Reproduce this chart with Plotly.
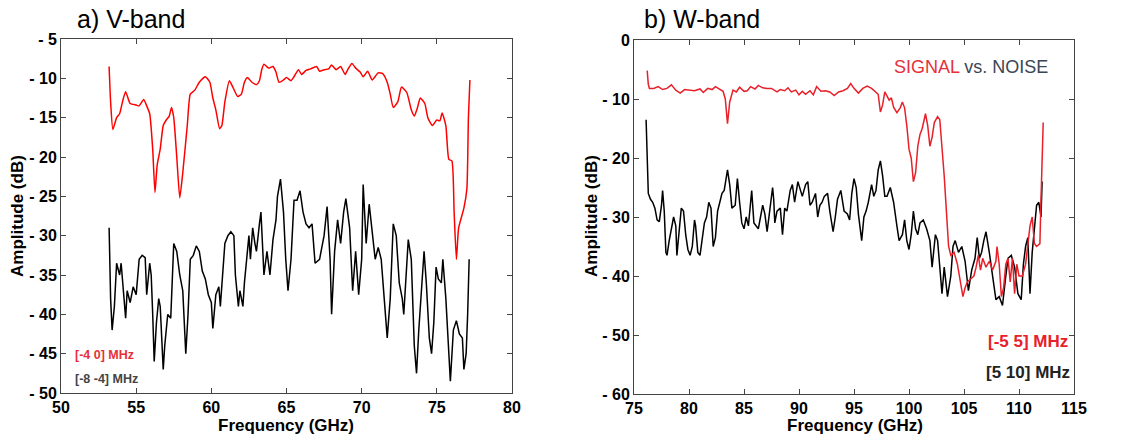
import plotly.graph_objects as go

# ---------------- Data: a) V-band ----------------
v_sig_f = [53.2, 53.3, 53.45, 53.7, 53.9, 54.1, 54.3, 54.6, 55.0, 55.2, 55.5, 55.7, 55.9, 56.1, 56.25,
           56.4, 56.6, 56.8, 57.0, 57.2, 57.35, 57.5, 57.7, 57.9, 58.1, 58.4, 58.6, 58.9, 59.2, 59.6,
           59.9, 60.1, 60.3, 60.55, 60.7, 60.9, 61.2, 61.4, 61.75, 62.0, 62.2, 62.4, 62.7, 63.0, 63.2,
           63.35, 63.5, 63.8, 64.1, 64.3, 64.5, 64.8, 65.0, 65.3, 65.5, 65.8, 66.0, 66.3, 66.6, 67.0,
           67.2, 67.5, 67.8, 68.0, 68.3, 68.6, 68.9, 69.1, 69.35, 69.6, 69.9, 70.1, 70.4, 70.7, 71.1,
           71.4, 71.7, 71.9, 72.1, 72.4, 72.65, 73.0, 73.3, 73.5, 73.7, 73.9, 74.2, 74.4, 74.7, 75.0,
           75.2, 75.35, 75.6, 75.8, 76.0, 76.15, 76.3, 76.45, 76.8, 77.0, 77.1, 77.2]
v_sig_a = [-8.5, -13.0, -16.5, -15.0, -14.5, -12.9, -11.7, -13.2, -13.4, -13.5, -12.7, -13.5, -14.5, -19.0, -24.5,
           -21.0, -19.0, -16.0, -15.3, -14.8, -13.7, -15.0, -20.0, -25.2, -22.0, -16.0, -12.0, -11.5, -10.5, -9.8,
           -10.5, -12.5, -14.0, -16.4, -16.0, -13.0, -10.3, -11.0, -12.3, -12.0, -10.5, -9.9, -10.5, -10.8, -10.3,
           -8.9, -8.2, -8.7, -8.5, -9.2, -10.5, -10.2, -9.9, -10.3, -9.8, -8.9, -9.5, -9.0, -8.8, -8.5,
           -9.1, -8.9, -8.8, -8.3, -8.9, -8.5, -9.5, -8.8, -8.1, -8.7, -9.2, -9.8, -9.1, -10.2, -9.3,
           -9.4, -10.5, -12.0, -13.7, -13.0, -11.1, -11.8, -14.0, -14.8, -13.8, -12.5, -13.2, -15.0, -16.0, -15.3,
           -15.4, -14.4, -16.0, -20.3, -20.5, -27.0, -33.0, -29.0, -26.5, -24.0, -15.0, -10.2]

v_noi_f = [53.2, 53.3, 53.4, 53.55, 53.7, 53.8, 53.9, 54.0, 54.1, 54.3, 54.4, 54.6, 54.8, 55.0, 55.2,
           55.4, 55.6, 55.7, 55.9, 56.0, 56.1, 56.2, 56.35, 56.5, 56.6, 56.7, 56.8, 56.9, 57.1, 57.3,
           57.5, 57.7, 57.9, 58.1, 58.3, 58.45, 58.6, 58.8, 59.0, 59.2, 59.4, 59.6, 59.8, 60.0, 60.1,
           60.3, 60.5, 60.6, 60.8, 60.9, 61.1, 61.3, 61.5, 61.6, 61.8, 61.9, 62.1, 62.2, 62.4, 62.5,
           62.6, 62.75, 62.9, 63.0, 63.2, 63.3, 63.5, 63.7, 63.9, 64.1, 64.3, 64.4, 64.6, 64.8, 64.95,
           65.1, 65.3, 65.5, 65.7, 65.9, 66.1, 66.3, 66.5, 66.7, 66.9, 67.2, 67.5, 67.7, 67.9, 68.0,
           68.2, 68.4, 68.6, 68.8, 68.95, 69.2, 69.4, 69.6, 69.8, 70.0, 70.1, 70.3, 70.5, 70.7, 70.9,
           71.1, 71.3, 71.5, 71.7, 71.9, 72.1, 72.3, 72.5, 72.7, 72.8, 73.1, 73.3, 73.5, 73.65, 73.8,
           74.0, 74.15, 74.3, 74.5, 74.65, 74.8, 74.95, 75.1, 75.3, 75.4, 75.6, 75.75, 75.9, 76.1, 76.3,
           76.5, 76.7, 76.8, 76.95, 77.05, 77.15]
v_noi_a = [-29.0, -38.0, -42.0, -39.0, -33.5, -34.5, -35.0, -33.5, -36.0, -40.5, -37.0, -38.5, -36.5, -37.5, -33.0,
           -32.5, -32.8, -37.5, -33.5, -35.0, -40.0, -46.0, -41.0, -38.0, -39.0, -43.0, -47.0, -44.0, -40.0, -40.5,
           -31.0, -32.0, -35.0, -37.0, -45.0, -40.0, -33.0, -32.5, -31.3, -32.0, -34.5, -35.5, -37.5, -38.5, -41.8,
           -37.5, -36.5, -39.0, -34.0, -31.0, -30.0, -29.5, -30.0, -35.0, -39.0, -37.0, -39.0, -36.0, -32.0, -30.0,
           -33.0, -29.0, -31.0, -32.0, -28.5, -27.0, -35.0, -32.0, -35.0, -30.5, -28.0, -25.0, -22.8, -27.0, -33.0,
           -37.0, -33.0, -25.5, -25.5, -24.3, -27.0, -28.5, -29.0, -28.5, -33.5, -33.0, -30.0, -26.3, -33.0, -40.0,
           -32.0, -28.0, -31.0, -27.0, -25.3, -29.0, -37.0, -32.0, -37.5, -33.0, -23.5, -31.0, -26.0, -30.0, -33.0,
           -31.5, -33.0, -38.0, -43.0, -38.0, -28.5, -30.0, -36.0, -38.0, -40.0, -30.5, -33.0, -44.0, -47.5, -42.0,
           -36.0, -32.0, -36.0, -43.0, -45.0, -41.0, -34.0, -35.5, -36.0, -33.0, -38.0, -43.0, -48.5, -42.0, -40.8,
           -42.5, -43.0, -47.0, -45.0, -40.0, -33.0]

# ---------------- Data: b) W-band ----------------
w_sig_f = [76.2, 76.3, 76.4, 76.8, 77.2, 77.6, 78.0, 78.4, 78.8, 79.2, 79.6, 80.0, 80.5, 81.0, 81.3,
           81.7, 82.1, 82.4, 82.8, 83.1, 83.3, 83.5, 83.7, 84.0, 84.3, 84.6, 85.0, 85.3, 85.6, 86.0,
           86.3, 86.7, 87.1, 87.5, 88.0, 88.3, 88.7, 89.0, 89.3, 89.7, 90.0, 90.3, 90.6, 91.0, 91.3,
           91.6, 92.0, 92.4, 92.8, 93.2, 93.6, 94.0, 94.4, 94.7, 95.0, 95.4, 95.8, 96.2, 96.6, 97.0,
           97.2, 97.4, 97.6, 97.8, 98.0, 98.2, 98.4, 98.6, 98.9, 99.2, 99.4, 99.6, 99.8, 100.0, 100.2,
           100.4, 100.6, 100.8, 101.0, 101.2, 101.5, 101.7, 101.9, 102.1, 102.3, 102.6, 102.8, 103.0, 103.2, 103.4,
           103.6, 103.8, 104.1, 104.4, 104.7, 104.9, 105.1, 105.3, 105.6, 105.9, 106.1, 106.3, 106.5, 106.7, 107.0,
           107.3, 107.6, 107.9, 108.0, 108.2, 108.4, 108.6, 108.8, 109.0, 109.2, 109.4, 109.6, 109.8, 110.0, 110.3,
           110.6, 110.8, 111.0, 111.2, 111.4, 111.6, 111.9, 112.0, 112.1, 112.2]
w_sig_a = [-5.2, -7.5, -8.2, -8.2, -7.9, -8.4, -8.2, -7.6, -8.5, -9.0, -8.4, -8.5, -8.6, -8.3, -8.9,
           -8.2, -8.4, -7.9, -8.4, -8.7, -10.0, -14.2, -10.5, -8.5, -8.8, -8.0, -8.7, -8.6, -7.9, -8.3,
           -7.7, -8.1, -8.2, -8.2, -8.8, -8.4, -8.6, -8.1, -8.8, -8.5, -9.3, -8.7, -9.2, -8.6, -9.3,
           -7.9, -8.7, -8.6, -8.8, -9.4, -8.8, -8.6, -8.2, -7.4, -8.2, -9.0, -8.2, -7.8, -8.2, -8.8,
           -9.2, -12.2, -11.0, -8.8, -9.5, -10.2, -9.8, -11.4, -12.3, -11.5, -10.5, -11.5, -14.5, -18.5, -20.0,
           -24.0, -22.5, -18.0, -16.0, -15.0, -12.5, -14.5, -18.0, -16.5, -14.0, -13.0, -13.5, -18.0, -23.0, -29.0,
           -35.0, -36.5, -36.0, -38.0, -41.0, -43.5, -42.0, -41.0, -40.5, -40.0, -38.5, -36.5, -39.0, -37.0, -38.5,
           -37.5, -39.0, -37.5, -35.0, -38.0, -43.5, -42.0, -38.0, -37.0, -41.0, -37.0, -43.0, -38.0, -40.0, -40.0,
           -38.0, -35.0, -31.5, -30.0, -34.5, -35.0, -34.5, -27.0, -20.0, -14.0]

w_noi_f = [76.1, 76.2, 76.3, 76.5, 76.7, 76.9, 77.1, 77.3, 77.5, 77.6, 77.75, 77.9, 78.0, 78.2, 78.4,
           78.6, 78.8, 78.9, 79.0, 79.3, 79.5, 79.7, 79.9, 80.1, 80.3, 80.5, 80.6, 80.8, 81.0, 81.2,
           81.4, 81.6, 81.8, 82.0, 82.2, 82.4, 82.6, 82.8, 83.0, 83.2, 83.4, 83.5, 83.7, 83.9, 84.2,
           84.4, 84.6, 84.8, 85.0, 85.2, 85.4, 85.6, 85.7, 85.9, 86.1, 86.3, 86.5, 86.7, 86.9, 87.1,
           87.3, 87.6, 87.7, 87.8, 88.0, 88.3, 88.5, 88.7, 88.9, 89.2, 89.4, 89.6, 89.9, 90.1, 90.3,
           90.6, 90.8, 91.0, 91.2, 91.5, 91.7, 91.9, 92.1, 92.3, 92.6, 92.8, 93.1, 93.3, 93.5, 93.8,
           94.1, 94.4, 94.6, 94.8, 95.0, 95.2, 95.4, 95.7, 95.9, 96.1, 96.3, 96.6, 96.8, 97.0, 97.2,
           97.4, 97.6, 97.8, 98.0, 98.3, 98.6, 98.9, 99.1, 99.4, 99.6, 99.8, 100.0, 100.2, 100.4, 100.6,
           100.8, 101.0, 101.3, 101.6, 101.9, 102.1, 102.4, 102.6, 102.8, 103.0, 103.2, 103.5, 103.8, 104.0, 104.2,
           104.5, 104.8, 105.1, 105.4, 105.7, 106.0, 106.2, 106.4, 106.6, 106.8, 107.0, 107.3, 107.6, 107.9, 108.2,
           108.5, 108.8, 109.0, 109.3, 109.6, 109.9, 110.2, 110.4, 110.6, 110.8, 111.0, 111.2, 111.4, 111.6, 111.8,
           112.0, 112.1]
w_noi_a = [-13.5, -20.0, -26.0, -27.0, -27.5, -28.5, -30.5, -30.8, -28.0, -25.5, -29.0, -36.0, -36.5, -34.0, -32.0,
           -30.0, -31.5, -36.5, -34.5, -28.5, -29.0, -33.0, -35.5, -36.5, -35.0, -30.5, -31.5, -36.0, -36.5, -34.0,
           -31.0, -30.0, -27.5, -28.5, -35.0, -33.5, -29.0, -27.5, -26.0, -25.5, -23.0, -22.0, -24.5, -28.5, -28.0,
           -23.5, -27.5, -31.0, -32.0, -30.0, -31.5, -28.0, -25.5, -31.0, -31.5, -32.0, -30.0, -28.0, -29.5, -32.5,
           -29.5, -25.0, -27.0, -31.0, -29.0, -28.5, -33.0, -28.5, -29.0, -25.5, -24.5, -27.5, -24.0, -25.5, -26.5,
           -24.5, -24.0, -28.0, -27.5, -26.0, -30.0, -28.0, -27.5, -26.5, -26.0, -29.0, -32.5, -30.0, -27.0, -25.5,
           -29.0, -29.5, -30.5, -26.0, -23.5, -25.0, -29.5, -34.0, -30.0, -29.0, -27.5, -24.5, -26.5, -25.5, -22.0,
           -20.5, -23.0, -26.5, -26.5, -25.0, -27.5, -31.5, -34.0, -33.0, -30.5, -34.0, -35.5, -33.0, -29.0, -32.0,
           -33.0, -31.0, -30.5, -32.0, -34.0, -38.5, -33.0, -34.0, -38.0, -43.0, -38.5, -43.5, -40.0, -35.0, -34.0,
           -36.0, -35.0, -37.5, -42.5, -39.0, -37.0, -33.5, -37.0, -36.0, -34.0, -32.5, -36.0, -40.0, -44.0, -43.5,
           -45.0, -40.0, -37.0, -36.5, -38.5, -43.0, -44.0, -38.0, -35.0, -33.5, -43.0, -36.0, -32.0, -28.0, -27.5,
           -30.0, -24.0]

# tick labels
v_xticks = [50, 55, 60, 65, 70, 75, 80]
v_yticks = [-5, -10, -15, -20, -25, -30, -35, -40, -45, -50]
w_xticks = [75, 80, 85, 90, 95, 100, 105, 110, 115]
w_yticks = [0, -10, -20, -30, -40, -50, -60]


def ylab(v):
    return "0" if v == 0 else "- " + str(abs(v))


W, H = 1133, 439
FONT = "Liberation Sans, Arial, sans-serif"


def px_x(p):
    return p / W


def px_y(p):
    return 1 - p / H


fig = go.Figure()
fig.add_trace(go.Scatter(x=v_noi_f, y=v_noi_a, mode="lines", line=dict(color="#000000", width=1.5),
                         xaxis="x", yaxis="y", showlegend=False))
fig.add_trace(go.Scatter(x=v_sig_f, y=v_sig_a, mode="lines", line=dict(color="#ff0000", width=1.5, shape="spline", smoothing=0.5),
                         xaxis="x", yaxis="y", showlegend=False))
fig.add_trace(go.Scatter(x=w_noi_f, y=w_noi_a, mode="lines", line=dict(color="#000000", width=1.5),
                         xaxis="x2", yaxis="y2", showlegend=False))
fig.add_trace(go.Scatter(x=w_sig_f, y=w_sig_a, mode="lines", line=dict(color="#e8202a", width=1.5),
                         xaxis="x2", yaxis="y2", showlegend=False))

tickfont = dict(family=FONT, size=16, color="#000000", weight="bold")
common = dict(showline=True, linecolor="#444444", linewidth=1, mirror="ticks", ticks="inside",
              ticklen=5, tickcolor="#444444", showgrid=False, zeroline=False, tickfont=tickfont,
              automargin=False)

fig.update_layout(
    width=W, height=H, autosize=False,
    margin=dict(l=0, r=0, t=0, b=0),
    paper_bgcolor="white", plot_bgcolor="white",
    xaxis=dict(domain=[px_x(61), px_x(512)], range=[50, 80], anchor="y",
               tickvals=v_xticks, ticktext=[str(t) for t in v_xticks], **common),
    yaxis=dict(domain=[px_y(393), px_y(39)], range=[-50, -5], anchor="x",
               tickvals=v_yticks, ticktext=[ylab(t) for t in v_yticks], **common),
    xaxis2=dict(domain=[px_x(634), px_x(1074)], range=[75, 115], anchor="y2",
                tickvals=w_xticks, ticktext=[str(t) for t in w_xticks], **common),
    yaxis2=dict(domain=[px_y(394), px_y(40)], range=[-60, 0], anchor="x2",
                tickvals=w_yticks, ticktext=[ylab(t) for t in w_yticks], **common),
)

ann = []
# panel titles
ann.append(dict(text="a) V-band", x=px_x(75), y=px_y(19), xanchor="left", yanchor="middle",
                font=dict(family=FONT, size=25, color="#000")))
ann.append(dict(text="b) W-band", x=px_x(642), y=px_y(19), xanchor="left", yanchor="middle",
                font=dict(family=FONT, size=25, color="#000")))
# axis titles
for cx in (px_x(286), px_x(855)):
    ann.append(dict(text="Frequency (GHz)", x=cx, y=px_y(425), xanchor="center", yanchor="middle",
                    font=dict(family=FONT, size=17, color="#000", weight="bold")))
for cx in (px_x(18), px_x(592)):
    ann.append(dict(text="Amplitude (dB)", x=cx, y=px_y(216), xanchor="center", yanchor="middle",
                    textangle=-90, font=dict(family=FONT, size=17, color="#000", weight="bold")))
# legend texts
ann.append(dict(text="[-4 0] MHz", x=px_x(73), y=px_y(355), xanchor="left", yanchor="middle",
                font=dict(family=FONT, size=12.5, color="#e8303a", weight="bold")))
ann.append(dict(text="[-8 -4] MHz", x=px_x(73), y=px_y(379), xanchor="left", yanchor="middle",
                font=dict(family=FONT, size=12.5, color="#444444", weight="bold")))
ann.append(dict(text="<span style='color:#e8303a'>SIGNAL</span> vs. NOISE", x=px_x(1050), y=px_y(67),
                xanchor="right", yanchor="middle", font=dict(family=FONT, size=18, color="#3b4654")))
ann.append(dict(text="[-5 5] MHz", x=px_x(1070), y=px_y(341), xanchor="right", yanchor="middle",
                font=dict(family=FONT, size=17, color="#e8202a", weight="bold")))
ann.append(dict(text="[5 10] MHz", x=px_x(1072), y=px_y(372), xanchor="right", yanchor="middle",
                font=dict(family=FONT, size=17, color="#222222", weight="bold")))
for a in ann:
    a.update(xref="paper", yref="paper", showarrow=False)
fig.update_layout(annotations=ann)

fig.write_html("out.html", config={"displayModeBar": False},
               post_script="document.body.style.margin='0px';document.body.style.overflow='hidden';")
